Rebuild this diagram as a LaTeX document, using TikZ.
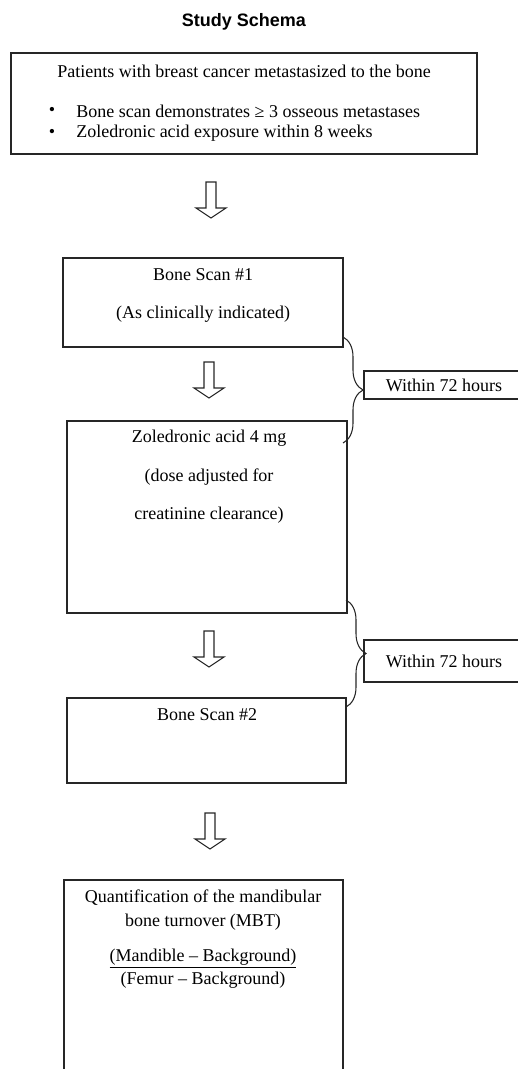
\documentclass[tikz,border=0pt]{standalone}
\usepackage{fontspec}
\setmainfont{Liberation Serif}
\setsansfont{Liberation Sans}
\usetikzlibrary{decorations.pathreplacing}

\tikzset{
  every node/.style={font=\fontsize{13.5}{16}\selectfont},
  box/.style={draw=black!85, line width=0.8pt, inner sep=0pt},
  timebrace/.style={draw=black!85, line width=0.8pt, decorate,
    decoration={brace, amplitude=15pt}},
}

\begin{document}
\begin{tikzpicture}[x=0.75pt, y=-0.75pt]
  \useasboundingbox (0,0) rectangle (517,1069);

  \node[font=\fontsize{13.5}{16}\selectfont\sffamily\bfseries] (title) at (244,22) {Study Schema};

  % eligibility
  \node[box, minimum width=349.5pt, minimum height=75.75pt] (elig) at (244,103.5) {};
  \node (elighead) at (244,71) {Patients with breast cancer metastasized to the bone};
  \node (bulla) at (52,111) {\textbullet};
  \node (bullb) at (52,133) {\textbullet};
  \node[anchor=west, inner sep=0pt] (crita) at (76,111) {Bone scan demonstrates ≥ 3 osseous metastases};
  \node[anchor=west, inner sep=0pt] (critb) at (76,133) {Zoledronic acid exposure within 8 weeks};

  % scans and treatment
  \node[box, minimum width=210pt, minimum height=66.75pt] (scan1) at (203,302.5) {};
  \node (scan1a) at (203,275) {Bone Scan \#1};
  \node (scan1b) at (203,314) {(As clinically indicated)};

  \node[box, minimum width=210pt, minimum height=144pt] (zol) at (207,517) {};
  \node (zola) at (209,438) {Zoledronic acid 4 mg};
  \node (zolb) at (209,477) {(dose adjusted for};
  \node (zolc) at (209,515) {creatinine clearance)};

  \node[box, minimum width=209.25pt, minimum height=63.75pt] (scan2) at (206.5,740.5) {};
  \node (scan2a) at (207,715) {Bone Scan \#2};

  \node[box, minimum width=209.25pt, minimum height=157.5pt] (quant) at (203.5,985) {};
  \node (quanta) at (203,898) {Quantification of the mandibular};
  \node (quantb) at (203,922) {bone turnover (MBT)};
  \node (quantc) at (203,959) {\underline{(Mandible -- Background)}};
  \node (quantd) at (203,980) {(Femur -- Background)};

  % timing windows
  \node[box, minimum width=120pt, minimum height=21pt] (win1) at (444,385) {Within 72 hours};
  \node[box, minimum width=120pt, minimum height=31.5pt] (win2) at (444,661) {Within 72 hours};

  \coordinate (b1top) at (343,337);
  \coordinate (b1bot) at (343,443);
  \coordinate (b2top) at (346,600);
  \coordinate (b2bot) at (346,707);
  \draw[timebrace] (b1top) -- (b1bot);
  \draw[timebrace] (b2top) -- (b2bot);

  % hollow down arrows
  \foreach \ax/\ay in {211/200, 209/380, 209/649, 210/831}
    \draw[black!85, line width=0.8pt] (\ax-5,\ay-18) -- (\ax+5,\ay-18) -- (\ax+5,\ay+8)
      -- (\ax+15,\ay+8) -- (\ax,\ay+18) -- (\ax-15,\ay+8) -- (\ax-5,\ay+8) -- cycle;
\end{tikzpicture}
\end{document}
